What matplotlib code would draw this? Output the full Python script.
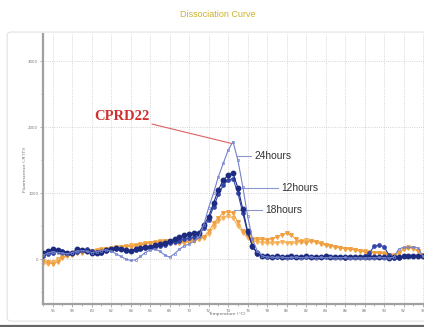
import matplotlib
matplotlib.use("Agg")
import matplotlib.pyplot as plt
from matplotlib.patches import FancyBboxPatch
from matplotlib.lines import Line2D
from matplotlib.ticker import MultipleLocator

# temperature steps of the melt curve (°C)
temps = [55.0, 55.5, 56.0, 56.5, 57.0, 57.5, 58.0, 58.5, 59.0, 59.5,
         60.0, 60.5, 61.0, 61.5, 62.0, 62.5, 63.0, 63.5, 64.0, 64.5,
         65.0, 65.5, 66.0, 66.5, 67.0, 67.5, 68.0, 68.5, 69.0, 69.5,
         70.0, 70.5, 71.0, 71.5, 72.0, 72.5, 73.0, 73.5, 74.0, 74.5,
         75.0, 75.5, 76.0, 76.5, 77.0, 77.5, 78.0, 78.5, 79.0, 79.5,
         80.0, 80.5, 81.0, 81.5, 82.0, 82.5, 83.0, 83.5, 84.0, 84.5,
         85.0, 85.5, 86.0, 86.5, 87.0, 87.5, 88.0, 88.5, 89.0, 89.5,
         90.0, 90.5, 91.0, 91.5, 92.0, 92.5, 93.0, 93.5, 94.0, 94.5]

# 24 hours (thin light blue line)
h24 = [60, 90, 110, 100, 90, 80, 100, 120, 130, 120,
       100, 110, 130, 140, 120, 80, 40, 0, -20, -10,
       40, 100, 140, 150, 120, 60, 30, 80, 150, 200,
       230, 270, 330, 520, 780, 1000, 1250, 1450, 1650, 1780,
       1500, 1100, 650, 300, 120, 50, 30, 30, 25, 30,
       20, 25, 30, 20, 25, 30, 20, 25, 20, 25,
       20, 20, 25, 15, 20, 20, 15, 20, 20, 25,
       20, 15, 30, 150, 180, 180, 180, 170, 40, 30]

# 12 hours (navy, filled dots)
h12 = [90, 130, 150, 140, 110, 90, 100, 150, 140, 120,
       100, 90, 110, 140, 160, 170, 150, 140, 130, 150,
       170, 180, 190, 210, 230, 250, 270, 300, 330, 360,
       380, 390, 400, 520, 640, 850, 1050, 1200, 1270, 1300,
       1080, 760, 420, 200, 90, 50, 40, 35, 40, 30,
       35, 40, 30, 35, 40, 30, 35, 30, 40, 35,
       30, 35, 30, 25, 35, 30, 25, 30, 35, 30,
       25, 20, 30, 35, 40, 45, 50, 45, 40, 35]

# second blue replicate
h12b = [50, 80, 100, 120, 130, 100, 90, 110, 140, 150,
        130, 110, 100, 120, 150, 160, 150, 130, 120, 140,
        150, 170, 180, 190, 200, 220, 240, 260, 280, 300,
        320, 330, 360, 470, 600, 790, 980, 1120, 1200, 1220,
        1000, 700, 400, 190, 80, 40, 30, 30, 25, 35,
        30, 25, 30, 35, 30, 25, 30, 35, 25, 30,
        25, 30, 20, 25, 30, 35, 40, 90, 200, 210,
        190, 60, 20, 20, 40, 50, 50, 45, 40, 35]

# 18 hours (orange, triangles)
h18 = [-30, -50, -70, -40, 10, 50, 70, 90, 100, 110,
       120, 130, 140, 150, 160, 170, 180, 190, 190, 200,
       210, 230, 240, 250, 260, 270, 270, 260, 250, 260,
       270, 290, 310, 340, 420, 540, 630, 700, 720, 700,
       560, 430, 350, 310, 300, 300, 290, 310, 340, 370,
       390, 360, 300, 260, 250, 270, 260, 230, 210, 200,
       180, 170, 160, 150, 140, 120, 110, 100, 100, 90,
       80, 60, 50, 90, 150, 170, 170, 130, 60, 50]

h18b = [-60, -80, -40, 0, 30, 60, 80, 100, 110, 120,
        130, 140, 150, 160, 170, 180, 190, 200, 210, 220,
        230, 240, 250, 260, 270, 280, 270, 250, 240, 250,
        260, 280, 300, 320, 380, 480, 570, 630, 650, 620,
        500, 400, 320, 280, 260, 250, 240, 240, 250, 260,
        250, 240, 250, 270, 290, 280, 260, 240, 220, 200,
        190, 170, 160, 150, 140, 130, 120, 110, 100, 100,
        90, 70, 60, 100, 160, 180, 160, 120, 60, 40]

navy = "#1c2b80"
light_blue = "#7482cc"
mid_blue = "#3445a8"
orange = "#f0a040"
orange2 = "#f5b25a"

fig = plt.figure(figsize=(4.24, 3.27), dpi=100)
fig.patch.set_facecolor("white")

# light panel frame and dark bottom edge of the screenshot
fig.patches.append(FancyBboxPatch((0.017, 0.018), 1.1, 0.884,
                                  boxstyle="round,pad=0,rounding_size=0.01",
                                  transform=fig.transFigure, fill=False,
                                  edgecolor="#e2e2e2", linewidth=0.8))
fig.lines.append(Line2D([0, 1], [0.004, 0.004], transform=fig.transFigure,
                        color="#666666", linewidth=1.6))

ax = fig.add_axes([0.1014, 0.0703, 0.8986, 0.8257])

ax.plot(temps, h18b, color=orange2, lw=0.7, marker="v", ms=2.6, zorder=2)
ax.plot(temps, h18, color=orange, lw=0.7, marker="v", ms=2.6, zorder=2)
ax.plot(temps, h12b, color=mid_blue, lw=0.8, marker="o", ms=2.4, zorder=3)
ax.plot(temps, h12, color=navy, lw=0.8, marker="o", ms=3.2, zorder=3)
ax.plot(temps, h24, color=light_blue, lw=0.8, marker="s", ms=1.5,
        mfc="none", mew=0.5, zorder=4)

ax.set_xlim(55, 94.1)
ax.set_ylim(-680, 3410)
ax.xaxis.set_major_locator(MultipleLocator(2))
ax.xaxis.set_minor_locator(MultipleLocator(1))
ax.yaxis.set_major_locator(MultipleLocator(1000))
ax.yaxis.set_minor_locator(MultipleLocator(500))
ax.set_xticks([56 + 2 * k for k in range(20)])
ax.grid(True, which="major", linestyle=":", color="#c8c8c8", linewidth=0.6)

for side in ["top", "right"]:
    ax.spines[side].set_visible(False)
ax.spines["left"].set_color("#a0a0a0")
ax.spines["bottom"].set_color("#a0a0a0")
ax.spines["left"].set_linewidth(1.6)
ax.spines["bottom"].set_linewidth(1.6)
ax.tick_params(which="both", colors="#909090", labelsize=2.8, length=2,
               width=0.5, pad=1.5, labelcolor="#777777")
ax.tick_params(which="minor", length=1.5)

ax.set_xlabel("Temperature (°C)", fontsize=3.2, color="#666666", labelpad=1.5)
ax.xaxis.set_label_coords(0.483, -0.03)
ax.set_ylabel("Fluorescence (-R'(T))", fontsize=3.2, color="#666666")
ax.yaxis.set_label_coords(-0.042, 0.5)

fig.text(0.514, 0.955, "Dissociation Curve", ha="center", va="center",
         fontsize=6.5, color="#cdb22a", family="Liberation Sans")

# sample name with pointer to the highest peak
ax.annotate("CPRD22", xy=(74.4, 1750), xytext=(65.9, 2060),
            ha="right", va="bottom", fontsize=10.5, fontweight="bold",
            color="#d03030", family="Liberation Serif",
            arrowprops=dict(arrowstyle="-", color="#e06060", lw=0.8,
                            shrinkA=0, shrinkB=0))

# time point labels
label_line = "#8a98cc"
ax.plot([74.9, 76.3], [1560, 1560], color=label_line, lw=0.8)
ax.text(76.7, 1560, "24hours", fontsize=7.4, va="center",
        color="#333333", family="Liberation Sans")
ax.plot([75.5, 79.1], [1075, 1075], color=label_line, lw=0.8)
ax.text(79.5, 1075, "12hours", fontsize=7.4, va="center",
        color="#333333", family="Liberation Sans")
ax.plot([74.6, 77.5], [740, 740], color=label_line, lw=0.8)
ax.text(77.8, 740, "18hours", fontsize=7.4, va="center",
        color="#333333", family="Liberation Sans")

fig.savefig("out.png", dpi=100)
